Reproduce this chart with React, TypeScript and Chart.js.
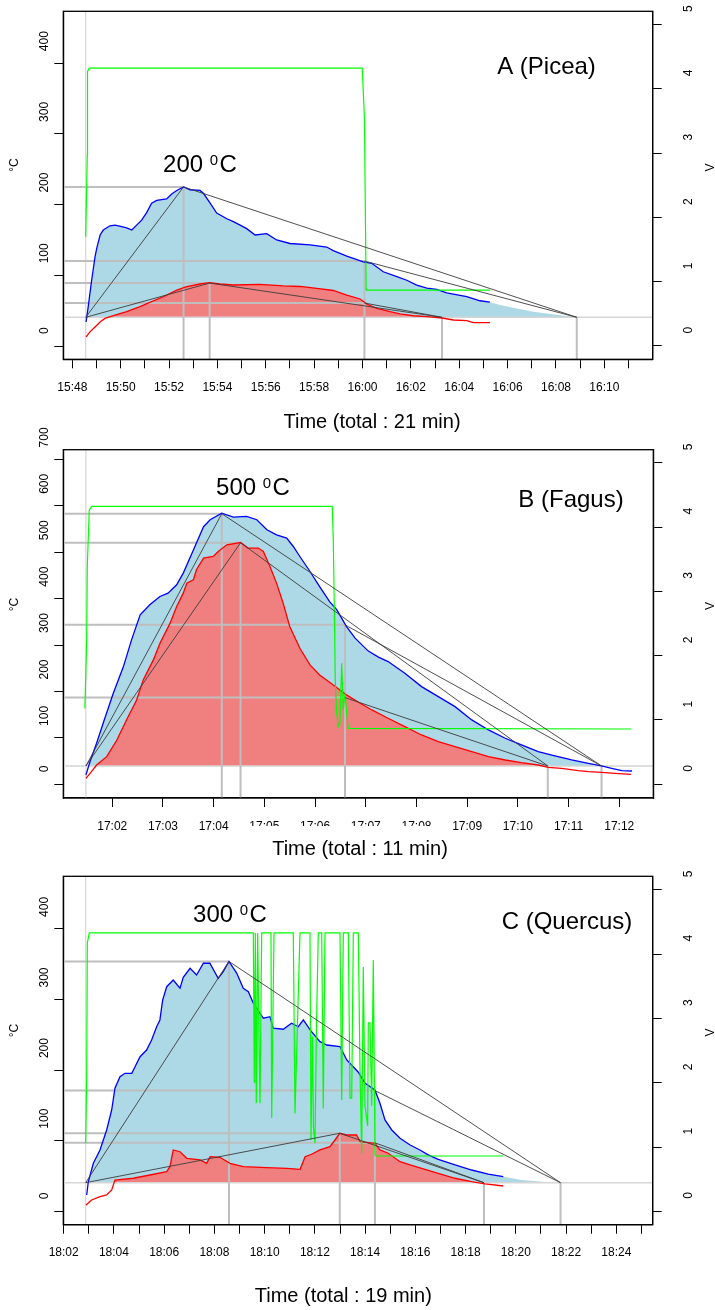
import React, { useEffect, useRef } from 'react';
import { Chart, registerables } from 'chart.js';

Chart.register(...registerables);

type Pt = [number, number];

const FONT = '"Liberation Sans", Arial, Helvetica, sans-serif';

// ===== Panel A – Picea, 200 °C; x = minutes after 15:48 =====
const A_BLUE: Pt[] = [
  [0.57, 34], [0.66, 56], [0.8, 93], [0.94, 126], [1.01, 138], [1.15, 157], [1.28, 164], [1.56, 170],
  [1.77, 171], [2.04, 169], [2.25, 167], [2.46, 164], [2.66, 171], [2.87, 178], [3.08, 189], [3.28, 202],
  [3.49, 206], [3.9, 208], [4.11, 215], [4.32, 220], [4.6, 225], [4.87, 221], [5.28, 220], [5.42, 216],
  [5.7, 202], [5.97, 188], [6.39, 180], [6.66, 176], [6.94, 171], [7.21, 166], [7.56, 157], [8.04, 159],
  [8.45, 150], [9.0, 145], [9.83, 143], [10.52, 140], [10.79, 135], [11.35, 127], [11.62, 124], [12.03, 119],
  [12.38, 117], [12.86, 105], [13.42, 98], [13.83, 93], [14.24, 86], [14.66, 82], [15.07, 80], [15.48, 75],
  [16.31, 70], [16.86, 64], [17.27, 62],
];
const A_BLUE_TAIL: Pt[] = [[17.69, 58], [18.38, 53], [19.07, 48.5], [19.76, 45.3], [20.45, 42.4], [20.86, 40.6]];
const A_RED: Pt[] = [
  [0.57, 13], [0.73, 20], [0.94, 27], [1.15, 34], [1.35, 39], [1.7, 43], [2.25, 48.5], [2.8, 55.6],
  [3.28, 62.7], [3.76, 69.7], [4.32, 79], [4.73, 84], [5.28, 87.7], [5.68, 89.5], [6.11, 87.7], [6.66, 86.3],
  [7.76, 87.3], [8.73, 85], [9.42, 84.2], [10.11, 81.6], [10.79, 78.5], [11.35, 72], [11.9, 66.5], [12.18, 59.4],
  [12.59, 53.3], [13.14, 48.5], [13.55, 45.3], [14.1, 42.8], [14.66, 41.5], [15.29, 39.6], [15.76, 36.8],
  [16.31, 35.8], [16.58, 33], [17.27, 33],
];
const A_GREEN: Pt[] = [[0.554, 1.7], [0.62, 2.97], [0.63, 4.27], [0.7, 4.32], [11.99, 4.32], [12.08, 3.54], [12.15, 0.87], [17.27, 0.87]];
// start, blue peak, red peak, voltage drop, red end, blue end
const A_KEY_TIMES = [0.554, 4.6, 5.68, 12.08, 15.29, 20.86];
// baseline, blue peak, red peak, blue at drop, red at drop
const A_KEY_TEMPS = [40.6, 225, 89, 120.2, 60.8];
const A_X_TICKS = Array.from({ length: 24 }, (_, i) => i);
const A_X_LABELS = ['15:48', '', '15:50', '', '15:52', '', '15:54', '', '15:56', '', '15:58', '', '16:00', '', '16:02', '', '16:04', '', '16:06', '', '16:08', '', '16:10', ''];
const A_T_TICKS = [0, 100, 200, 300, 400];
const A_V_TICKS = [0, 1, 2, 3, 4, 5];
const A_X_RANGE = [-0.372, 24.0];
const A_T_RANGE = [-18.8, 473.4];
const A_V_RANGE = [-0.207, 5.205];

// ===== Panel B – Fagus, 500 °C; x = minutes after 17:00 =====
const B_BLUE: Pt[] = [
  [1.48, 20], [1.56, 48.7], [1.69, 88.4], [1.82, 131.5], [2.02, 196], [2.22, 253.6], [2.38, 311.2], [2.55, 365],
  [2.74, 386.7], [2.94, 404.6], [3.1, 411.9], [3.27, 429.8], [3.4, 455], [3.6, 505], [3.8, 555], [3.93, 570],
  [4.16, 584], [4.39, 575.8], [4.65, 577.1], [4.85, 570], [5.05, 548.4], [5.24, 537.6], [5.44, 530.5], [5.57, 512.4],
  [5.7, 490.8], [5.9, 458.5], [6.09, 426.1], [6.29, 393], [6.43, 375.9], [6.62, 339.9], [6.79, 314.9], [6.89, 304.1],
  [7.05, 287], [7.25, 274], [7.44, 264.4], [7.77, 239.4], [8.1, 210.5], [8.43, 188.9], [8.76, 167.3], [9.09, 138.7],
  [9.42, 117.1], [9.75, 99.2], [10.07, 84.8], [10.4, 70.3], [10.73, 61], [11.06, 52.4], [11.39, 45.3], [11.65, 39.5],
  [11.85, 34.5], [12.05, 29.3], [12.25, 28.7],
];
const B_BLUE_TAIL: Pt[] = [];
const B_RED: Pt[] = [
  [1.48, 12.9], [1.59, 27.2], [1.69, 41.6], [1.89, 59.5], [2.09, 95.5], [2.28, 138.7], [2.48, 181.8], [2.61, 224.9],
  [2.81, 268.1], [2.94, 304.1], [3.14, 347.2], [3.27, 383], [3.4, 411.9], [3.47, 433.5], [3.6, 440.6], [3.66, 462.2],
  [3.8, 487.4], [3.99, 490.8], [4.09, 501.6], [4.26, 516.1], [4.53, 521], [4.68, 509], [4.88, 509], [4.98, 501.6],
  [5.11, 469.3], [5.24, 433.5], [5.37, 390.3], [5.5, 339.9], [5.7, 293], [5.9, 257.3], [6.09, 235.7], [6.36, 214.1],
  [6.62, 192.6], [6.89, 174.7], [7.12, 160.2], [7.44, 142.3], [7.77, 124.2], [8.1, 106.3], [8.43, 91.9], [8.76, 81.1],
  [9.09, 70.3], [9.42, 59.5], [9.75, 52.4], [10.07, 46.6], [10.4, 41.6], [10.6, 36.7], [10.86, 34.5], [11.19, 29.3],
  [11.39, 27.2], [11.65, 25.9], [11.92, 23.7], [12.23, 21.6],
];
const B_GREEN: Pt[] = [
  [1.46, 1.18], [1.495, 2.24], [1.507, 3.38], [1.546, 4.26], [1.594, 4.32], [6.339, 4.32], [6.359, 3.8], [6.379, 2.76],
  [6.398, 1.62], [6.426, 1.1], [6.458, 0.9], [6.491, 0.95], [6.525, 1.88], [6.556, 1.16], [6.59, 1.41], [6.623, 1.1],
  [6.655, 0.87], [12.24, 0.86],
];
const B_KEY_TIMES = [1.48, 4.16, 4.53, 6.59, 10.59, 11.65];
const B_KEY_TEMPS = [39.5, 583, 520.4, 343.5, 186.8];
const B_X_TICKS = [2, 3, 4, 5, 6, 7, 8, 9, 10, 11, 12];
const B_X_LABELS = ['17:02', '17:03', '17:04', '17:05', '17:06', '17:07', '17:08', '17:09', '17:10', '17:11', '17:12'];
const B_T_TICKS = [0, 100, 200, 300, 400, 500, 600, 700];
const B_V_TICKS = [0, 1, 2, 3, 4, 5];
const B_X_RANGE = [1.034, 12.671];
const B_T_RANGE = [-29.5, 720.9];
const B_V_RANGE = [-0.213, 5.202];

// ===== Panel C – Quercus, 300 °C; x = minutes after 18:00 =====
const C_BLUE: Pt[] = [
  [2.915, 23.1], [2.98, 41.9], [3.18, 68], [3.445, 86.9], [3.71, 115.2], [3.91, 143.5], [4.04, 174.3], [4.24, 190.7],
  [4.44, 195.5], [4.71, 195.5], [4.84, 204.9], [5.04, 219], [5.3, 228.5], [5.5, 242.7], [5.7, 261.5], [5.83, 271.1],
  [5.94, 299.4], [6.1, 318.2], [6.36, 327.7], [6.63, 316], [6.76, 331.5], [7.03, 344.3], [7.29, 334.8], [7.56, 351.4],
  [7.82, 351.4], [8.15, 330.1], [8.35, 339.5], [8.58, 354], [8.89, 337.2], [9.15, 316], [9.35, 311.2], [9.55, 294.7],
  [9.95, 273.5], [10.21, 275.7], [10.34, 259.3], [10.74, 257.9], [11.07, 266.4], [11.34, 261.5], [11.54, 271.1], [11.81, 256.9],
  [12.2, 240.3], [12.47, 235.6], [13.0, 233.3], [13.27, 214.4], [13.73, 197], [14.0, 181.3], [14.39, 171.9], [14.59, 153],
  [14.79, 129.4], [15.06, 115.2], [15.39, 103.4], [15.79, 93.9], [16.18, 86.9], [16.51, 80], [16.91, 73.7], [17.58, 65.6],
  [18.24, 58.5], [18.9, 52.8], [19.5, 49],
];
const C_BLUE_TAIL: Pt[] = [[20.23, 44.3], [21.03, 41.9], [21.78, 40.5]];
const C_RED: Pt[] = [
  [2.89, 8.9], [3.11, 16], [3.445, 20.7], [3.71, 23.1], [3.91, 30.2], [4.04, 44.3], [4.77, 46.8], [5.43, 51.4],
  [6.1, 56.1], [6.23, 63.2], [6.36, 86.9], [6.63, 84.4], [6.9, 75.1], [7.43, 72.7], [7.69, 68], [7.83, 77.4],
  [8.22, 76.5], [8.62, 68], [9.15, 63.2], [10.08, 61.8], [10.88, 60.9], [11.41, 59.5], [11.61, 77.4], [11.87, 80.8],
  [12.2, 86.9], [12.6, 91.5], [12.8, 101], [12.99, 110.5], [13.27, 108.1], [13.66, 108.1], [13.8, 98.6], [14.39, 96.3],
  [14.59, 86.9], [14.92, 82.2], [15.39, 70.3], [15.79, 65.6], [16.25, 60.9], [16.91, 53.8], [17.58, 46.8], [18.24, 41.9],
  [18.77, 38.7], [19.5, 35.8],
];
const C_GREEN: Pt[] = [
  [2.876, 1.06], [2.916, 2.09], [2.94, 4.17], [3.019, 4.33], [9.548, 4.33], [9.588, 1.99], [9.628, 4.33], [9.667, 1.68],
  [9.723, 4.33], [9.763, 3.03], [9.815, 1.68], [9.882, 4.33], [10.252, 4.33], [10.28, 1.45], [10.372, 4.33], [11.14, 4.33],
  [11.208, 1.52], [11.407, 4.33], [11.805, 4.33], [11.845, 1.11], [11.905, 2.72], [11.944, 1.3], [12.004, 1.06], [12.064, 2.9],
  [12.135, 4.33], [12.271, 4.33], [12.334, 1.6], [12.402, 4.33], [13.0, 4.33], [13.067, 1.73], [13.131, 4.33], [13.33, 4.33],
  [13.398, 1.76], [13.465, 1.76], [13.53, 4.33], [13.728, 4.33], [13.796, 2.2], [13.863, 0.9], [13.927, 3.8], [13.994, 1.64],
  [14.1, 1.33], [14.126, 2.93], [14.194, 2.93], [14.261, 1.64], [14.325, 3.91], [14.393, 0.88], [14.46, 0.86], [19.5, 0.86],
];
const C_KEY_TIMES = [2.875, 8.58, 12.99, 14.39, 18.73, 21.78];
const C_KEY_TEMPS = [40.5, 354, 110.5, 171, 97];
const C_X_TICKS = Array.from({ length: 24 }, (_, i) => i + 2);
const C_X_LABELS = ['18:02', '', '18:04', '', '18:06', '', '18:08', '', '18:10', '', '18:12', '', '18:14', '', '18:16', '', '18:18', '', '18:20', '', '18:22', '', '18:24', ''];
const C_T_TICKS = [0, 100, 200, 300, 400];
const C_V_TICKS = [0, 1, 2, 3, 4, 5];
const C_X_RANGE = [1.984, 25.448];
const C_T_RANGE = [-19, 474.6];
const C_V_RANGE = [-0.208, 5.21];

// ===== layout (pixels) =====
const Y_AXIS_W = 18.3;
const Y1_AXIS_W = 50;
const X_AXIS_H = 40;
const LEFT_LABEL_X = 45;
const LEFT_LABEL_GAP = 12;

interface Frame {
  top: number; height: number;
  pad: { left: number; top: number; right: number; bottom: number };
  rightLabelPad: number;
  setpointAt: [number, number]; nameAt: [number, number]; titleAt: [number, number];
  degAt: [number, number]; voltAt: [number, number];
  mask?: [number, number, number, number];
}

interface PanelSpec {
  blue: Pt[]; blueTail: Pt[]; red: Pt[]; green: Pt[];
  keyTimes: number[]; keyTemps: number[];
  xTicks: number[]; xLabels: string[]; tTicks: number[]; vTicks: number[];
  xRange: number[]; tRange: number[]; vRange: number[];
  setpoint: string; name: string; title: string;
  frame: Frame;
}

const PANELS: PanelSpec[] = [
  {
    blue: A_BLUE, blueTail: A_BLUE_TAIL, red: A_RED, green: A_GREEN, keyTimes: A_KEY_TIMES, keyTemps: A_KEY_TEMPS,
    xTicks: A_X_TICKS, xLabels: A_X_LABELS, tTicks: A_T_TICKS, vTicks: A_V_TICKS,
    xRange: A_X_RANGE, tRange: A_T_RANGE, vRange: A_V_RANGE,
    setpoint: '200', name: 'A (Picea)', title: 'Time (total : 21 min)',
    frame: {
      top: 0, height: 437, pad: { left: 45, top: 11.3, right: 12.3, bottom: 37.7 }, rightLabelPad: 26.6,
      setpointAt: [200, 171.7], nameAt: [546.5, 74], titleAt: [372, 427.7], degAt: [15, 165], voltAt: [711, 167.5],
    },
  },
  {
    blue: B_BLUE, blueTail: B_BLUE_TAIL, red: B_RED, green: B_GREEN, keyTimes: B_KEY_TIMES, keyTemps: B_KEY_TEMPS,
    xTicks: B_X_TICKS, xLabels: B_X_LABELS, tTicks: B_T_TICKS, vTicks: B_V_TICKS,
    xRange: B_X_RANGE, tRange: B_T_RANGE, vRange: B_V_RANGE,
    setpoint: '500', name: 'B (Fagus)', title: 'Time (total : 11 min)',
    frame: {
      top: 420, height: 450, pad: { left: 45, top: 29.7, right: 11.7, bottom: 32 }, rightLabelPad: 26,
      setpointAt: [253, 75], nameAt: [571, 86.7], titleAt: [360, 435], degAt: [15, 184.5], voltAt: [711, 186],
      mask: [245, 406, 205, 44],
    },
  },
  {
    blue: C_BLUE, blueTail: C_BLUE_TAIL, red: C_RED, green: C_GREEN, keyTimes: C_KEY_TIMES, keyTemps: C_KEY_TEMPS,
    xTicks: C_X_TICKS, xLabels: C_X_LABELS, tTicks: C_T_TICKS, vTicks: C_V_TICKS,
    xRange: C_X_RANGE, tRange: C_T_RANGE, vRange: C_V_RANGE,
    setpoint: '300', name: 'C (Quercus)', title: 'Time (total : 19 min)',
    frame: {
      top: 870, height: 440, pad: { left: 45, top: 6.3, right: 12.3, bottom: 45.3 }, rightLabelPad: 26.6,
      setpointAt: [230, 51.7], nameAt: [567, 59.3], titleAt: [343.3, 432.3], degAt: [15, 160.5], voltAt: [711, 162.5],
    },
  },
];

const GREY = '#bebebe';
const LIGHT = '#d6d6d6';
const INK = '#3c3c3c';
const NONE = 'rgba(0,0,0,0)';

function series(pts: Pt[], color: string, width: number, order: number, axis = 'y', extra: any = {}) {
  return {
    data: pts.map(([x, y]) => ({ x, y })),
    borderColor: color,
    backgroundColor: color,
    borderWidth: width,
    pointRadius: 0,
    pointHoverRadius: 0,
    fill: false,
    tension: 0,
    order,
    yAxisID: axis,
    ...extra,
  };
}

function buildDatasets(p: PanelSpec) {
  const [t0, tBP, tRP, tDrop, tRE, tBE] = p.keyTimes;
  const [base, BP, RP, BD, RD] = p.keyTemps;
  const [xMin, xMax] = p.xRange;
  const [yMin, yMax] = p.tRange;
  return [
    series([...p.blue, ...p.blueTail], NONE, 0, 20, 'y', { fill: { target: { value: base }, above: '#add8e6', below: NONE } }),
    series(p.red, NONE, 0, 19, 'y', { fill: { target: { value: base }, above: '#f08080', below: NONE } }),
    series([[xMin, base], [xMax, base]], LIGHT, 1.5, 18),
    series([[t0, yMin], [t0, yMax]], LIGHT, 1.2, 18),
    series([[xMin, BP], [tBP, BP]], GREY, 2, 17),
    series([[xMin, RP], [tRP, RP]], GREY, 2, 17),
    series([[xMin, BD], [tDrop, BD]], GREY, 2, 17),
    series([[xMin, RD], [tDrop, RD]], GREY, 2, 17),
    series([[tBP, yMin], [tBP, BP]], GREY, 2, 17),
    series([[tRP, yMin], [tRP, RP]], GREY, 2, 17),
    series([[tDrop, yMin], [tDrop, BD]], GREY, 2, 17),
    series([[tRE, yMin], [tRE, base]], GREY, 2, 17),
    series([[tBE, yMin], [tBE, base]], GREY, 2, 17),
    series(p.blue, '#0000ff', 1.3, 4),
    series(p.red, '#ff0000', 1.3, 3),
    series(p.green, '#00ff00', 1.2, 2, 'y1'),
    series([[t0, base], [tBP, BP], [tBE, base]], INK, 0.9, 1),
    series([[t0, base], [tRP, RP], [tRE, base]], INK, 0.9, 1),
    series([[tDrop, BD], [tBE, base]], INK, 0.9, 1),
    series([[tDrop, RD], [tRE, base]], INK, 0.9, 1),
  ];
}

function drawSetpoint(ctx: CanvasRenderingContext2D, num: string, cx: number, baseline: number) {
  const big = `24px ${FONT}`;
  const small = `15px ${FONT}`;
  ctx.font = big;
  const w1 = ctx.measureText(num + ' ').width;
  const w3 = ctx.measureText('C').width;
  ctx.font = small;
  const w2 = ctx.measureText('0').width;
  const gap = 1.5;
  let x = cx - (w1 + w2 + gap + w3) / 2;
  ctx.textAlign = 'left';
  ctx.textBaseline = 'alphabetic';
  ctx.font = big;
  ctx.fillText(num + ' ', x, baseline);
  x += w1;
  ctx.font = small;
  ctx.fillText('0', x, baseline - 7);
  x += w2 + gap;
  ctx.font = big;
  ctx.fillText('C', x, baseline);
}

function drawRotated(ctx: CanvasRenderingContext2D, text: string, x: number, y: number, size: number, align: CanvasTextAlign = 'center') {
  ctx.save();
  ctx.translate(x, y);
  ctx.rotate(-Math.PI / 2);
  ctx.font = `${size}px ${FONT}`;
  ctx.textAlign = align;
  ctx.textBaseline = 'middle';
  ctx.fillText(text, 0, 0);
  ctx.restore();
}

function decor(p: PanelSpec) {
  const f = p.frame;
  return {
    id: 'decor',
    afterDraw(chart: any) {
      const { ctx, chartArea: a } = chart;
      ctx.save();
      ctx.strokeStyle = '#000';
      ctx.lineWidth = 1.3;
      ctx.strokeRect(a.left, a.top, a.right - a.left, a.bottom - a.top);
      ctx.fillStyle = '#000';
      // left (°C) tick labels, R style: rotated, sitting just above their tick
      const ys = chart.scales.y;
      for (const v of p.tTicks) {
        drawRotated(ctx, String(v), LEFT_LABEL_X, ys.getPixelForValue(v) - LEFT_LABEL_GAP, 12, 'left');
      }
      ctx.font = `24px ${FONT}`;
      ctx.textAlign = 'center';
      ctx.textBaseline = 'alphabetic';
      ctx.fillText(p.name, f.nameAt[0], f.nameAt[1]);
      drawSetpoint(ctx, p.setpoint, f.setpointAt[0], f.setpointAt[1]);
      if (f.mask) {
        ctx.fillStyle = '#fff';
        ctx.fillRect(f.mask[0], f.mask[1], f.mask[2], f.mask[3]);
        ctx.fillStyle = '#000';
      }
      ctx.font = `20px ${FONT}`;
      ctx.textAlign = 'center';
      ctx.textBaseline = 'alphabetic';
      ctx.fillText(p.title, f.titleAt[0], f.titleAt[1]);
      drawRotated(ctx, '°C', f.degAt[0], f.degAt[1], 12);
      drawRotated(ctx, 'V', f.voltAt[0], f.voltAt[1], 12);
      ctx.restore();
    },
  };
}

const noPad = (s: any) => {
  s.paddingTop = 0;
  s.paddingBottom = 0;
  s.paddingLeft = 0;
  s.paddingRight = 0;
};

function makeConfig(p: PanelSpec): any {
  const font = { family: FONT, size: 12 };
  const f = p.frame;
  return {
    type: 'line',
    data: { datasets: buildDatasets(p) },
    options: {
      animation: false,
      responsive: false,
      maintainAspectRatio: false,
      events: [],
      layout: { padding: f.pad },
      plugins: { legend: { display: false }, tooltip: { enabled: false } },
      scales: {
        x: {
          type: 'linear',
          min: p.xRange[0],
          max: p.xRange[1],
          afterBuildTicks: (s: any) => { s.ticks = p.xTicks.map((v) => ({ value: v })); },
          afterFit: (s: any) => { s.height = X_AXIS_H; noPad(s); },
          ticks: {
            autoSkip: false, minRotation: 0, maxRotation: 0, padding: 12, color: '#000', font,
            callback: (_v: any, i: number) => p.xLabels[i] ?? '',
          },
          grid: { drawOnChartArea: false, drawTicks: true, tickLength: 9, color: '#000', lineWidth: 1 },
          border: { display: true, color: '#000', width: 1.2 },
        },
        y: {
          type: 'linear',
          position: 'left',
          min: p.tRange[0],
          max: p.tRange[1],
          afterBuildTicks: (s: any) => { s.ticks = p.tTicks.map((v) => ({ value: v })); },
          afterFit: (s: any) => { s.width = Y_AXIS_W; noPad(s); },
          ticks: { display: false, autoSkip: false },
          grid: { drawOnChartArea: false, drawTicks: true, tickLength: 9, color: '#000', lineWidth: 1 },
          border: { display: true, color: '#000', width: 1.2 },
        },
        y1: {
          type: 'linear',
          position: 'right',
          min: p.vRange[0],
          max: p.vRange[1],
          afterBuildTicks: (s: any) => { s.ticks = p.vTicks.map((v) => ({ value: v })); },
          afterFit: (s: any) => { s.width = Y1_AXIS_W; noPad(s); },
          ticks: { autoSkip: false, minRotation: 90, maxRotation: 90, crossAlign: 'near', labelOffset: -12.5, padding: f.rightLabelPad, color: '#000', font },
          grid: { drawOnChartArea: false, drawTicks: true, tickLength: 9, color: '#000', lineWidth: 1 },
          border: { display: true, color: '#000', width: 1.2 },
        },
      },
    },
    plugins: [decor(p)],
  };
}

export default function App() {
  const refs = [useRef<HTMLCanvasElement>(null), useRef<HTMLCanvasElement>(null), useRef<HTMLCanvasElement>(null)];
  useEffect(() => {
    const charts = PANELS.map((p, i) => new Chart(refs[i].current as HTMLCanvasElement, makeConfig(p)));
    return () => charts.forEach((c) => c.destroy());
  }, []);
  return (
    <div style={{ position: 'absolute', left: 0, top: 0, width: 715, height: 1310, background: '#fff', overflow: 'hidden' }}>
      {PANELS.map((p, i) => (
        <canvas
          key={i}
          ref={refs[i]}
          width={715}
          height={p.frame.height}
          style={{ position: 'absolute', left: 0, top: p.frame.top, width: 715, height: p.frame.height, display: 'block' }}
        />
      ))}
    </div>
  );
}
